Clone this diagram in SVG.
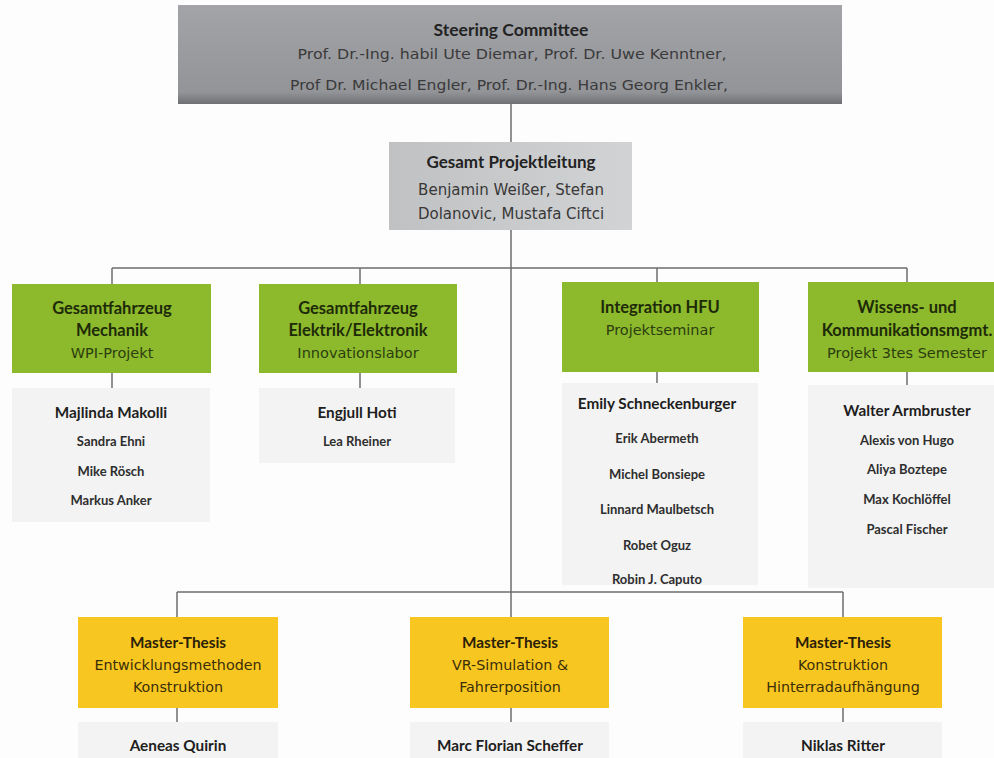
<svg xmlns="http://www.w3.org/2000/svg" width="994" height="758" viewBox="0 0 994 758">
<defs>
<linearGradient id="gTop" x1="0" y1="0" x2="0" y2="1">
<stop offset="0" stop-color="#a3a4a8"/><stop offset="0.88" stop-color="#939498"/><stop offset="1" stop-color="#6f7074"/>
</linearGradient>
<linearGradient id="gSec" x1="0" y1="0" x2="1" y2="0">
<stop offset="0" stop-color="#c0c1c3"/><stop offset="1" stop-color="#d2d3d5"/>
</linearGradient>
<style>
.ln{stroke:#6e6e6e;stroke-width:1.5;fill:none}
.green{fill:#8cba2c}
.yellow{fill:#f8c621}
.mem{fill:#f3f3f3}
text{text-anchor:middle;font-family:Lato,"Liberation Sans",sans-serif}
.r{font-family:"DejaVu Sans","Liberation Sans",sans-serif}
.t{font-weight:bold;font-size:17.5px;fill:#232323}
.s{font-size:13.5px;fill:#3a3a3a}
.gray{font-size:15px;fill:#383838}
.gt{font-weight:bold;font-size:16.5px;fill:#1e2a08}
.gs{font-size:14.5px;fill:#2d3d10}
.yt{font-weight:bold;font-size:15.3px;fill:#2a2008}
.ys{font-size:14.3px;fill:#3a2e08}
.n1{font-weight:bold;font-size:15.3px;fill:#1e1e1e}
.n{font-weight:bold;font-size:13px;fill:#2e2e2e}
</style>
</defs>
<rect width="994" height="758" fill="#fdfdfd"/>
<g id="connectors">
<path class="ln" d="M511 104V142M511 230V617"/>
<path class="ln" d="M112 268H907M112 268V284M360 268V284M657 268V282M907 268V282"/>
<path class="ln" d="M112 373V388M360 373V388M657 372V383M907 372V385"/>
<path class="ln" d="M177 592H843M177 592V617M843 592V617"/>
<path class="ln" d="M177 708V722M511 708V722M843 708V722"/>
</g>
<g id="steering">
<rect x="178" y="5" width="664" height="99" fill="url(#gTop)"/>
<text class="t" x="511" y="36">Steering Committee</text>
<text class="r s" x="512" y="59" textLength="429" lengthAdjust="spacingAndGlyphs">Prof. Dr.-Ing. habil Ute Diemar, Prof. Dr. Uwe Kenntner,</text>
<text class="r s" x="509" y="90" textLength="438" lengthAdjust="spacingAndGlyphs">Prof Dr. Michael Engler, Prof. Dr.-Ing. Hans Georg Enkler,</text>
</g>
<g id="projektleitung">
<rect x="389" y="142" width="243" height="88" fill="url(#gSec)"/>
<text class="t" x="511" y="168" style="font-size:17px">Gesamt Projektleitung</text>
<text class="r gray" x="511" y="195">Benjamin Weißer, Stefan</text>
<text class="r gray" x="511" y="219">Dolanovic, Mustafa Ciftci</text>
</g>
<g id="mechanik">
<rect class="green" x="12" y="284" width="199" height="89"/>
<text class="gt" x="112" y="314">Gesamtfahrzeug</text>
<text class="gt" x="112" y="336">Mechanik</text>
<text class="r gs" x="112" y="358">WPI-Projekt</text>
</g>
<g id="elektrik">
<rect class="green" x="259" y="284" width="198" height="89"/>
<text class="gt" x="358" y="314">Gesamtfahrzeug</text>
<text class="gt" x="358" y="336">Elektrik/Elektronik</text>
<text class="r gs" x="358" y="358">Innovationslabor</text>
</g>
<g id="integration">
<rect class="green" x="562" y="282" width="197" height="90"/>
<text class="gt" x="660" y="313">Integration HFU</text>
<text class="r gs" x="660" y="335">Projektseminar</text>
</g>
<g id="wissens">
<rect class="green" x="808" y="282" width="190" height="90"/>
<text class="gt" x="907" y="313">Wissens- und</text>
<text class="gt" x="907" y="336">Kommunikationsmgmt.</text>
<text class="r gs" x="907" y="358">Projekt 3tes Semester</text>
</g>
<g id="team-mechanik">
<rect class="mem" x="12" y="388" width="198" height="134"/>
<text class="n1" x="111" y="418">Majlinda Makolli</text>
<text class="n" x="111" y="446">Sandra Ehni</text>
<text class="n" x="111" y="476">Mike Rösch</text>
<text class="n" x="111" y="505">Markus Anker</text>
</g>
<g id="team-elektrik">
<rect class="mem" x="259" y="388" width="196" height="75"/>
<text class="n1" x="357" y="418">Engjull Hoti</text>
<text class="n" x="357" y="446">Lea Rheiner</text>
</g>
<g id="team-integration">
<rect class="mem" x="562" y="383" width="196" height="202"/>
<text class="n1" x="657" y="409">Emily Schneckenburger</text>
<text class="n" x="657" y="443">Erik Abermeth</text>
<text class="n" x="657" y="479">Michel Bonsiepe</text>
<text class="n" x="657" y="514">Linnard Maulbetsch</text>
<text class="n" x="657" y="550">Robet Oguz</text>
<text class="n" x="657" y="584">Robin J. Caputo</text>
</g>
<g id="team-wissens">
<rect class="mem" x="808" y="385" width="190" height="203"/>
<text class="n1" x="907" y="416">Walter Armbruster</text>
<text class="n" x="907" y="445">Alexis von Hugo</text>
<text class="n" x="907" y="474">Aliya Boztepe</text>
<text class="n" x="907" y="504">Max Kochlöffel</text>
<text class="n" x="907" y="534">Pascal Fischer</text>
</g>
<g id="thesis-entwicklung">
<rect class="yellow" x="78" y="617" width="200" height="91"/>
<text class="yt" x="178" y="648">Master-Thesis</text>
<text class="r ys" x="178" y="670">Entwicklungsmethoden</text>
<text class="r ys" x="178" y="692">Konstruktion</text>
</g>
<g id="thesis-vr">
<rect class="yellow" x="410" y="617" width="199" height="91"/>
<text class="yt" x="510" y="648">Master-Thesis</text>
<text class="r ys" x="510" y="670">VR-Simulation &amp;</text>
<text class="r ys" x="510" y="692">Fahrerposition</text>
</g>
<g id="thesis-konstruktion">
<rect class="yellow" x="743" y="617" width="199" height="91"/>
<text class="yt" x="843" y="648">Master-Thesis</text>
<text class="r ys" x="843" y="670">Konstruktion</text>
<text class="r ys" x="843" y="692">Hinterradaufhängung</text>
</g>
<g id="name-quirin">
<rect class="mem" x="78" y="722" width="200" height="40"/>
<text class="n1" x="178" y="751">Aeneas Quirin</text>
</g>
<g id="name-scheffer">
<rect class="mem" x="410" y="722" width="199" height="40"/>
<text class="n1" x="510" y="751">Marc Florian Scheffer</text>
</g>
<g id="name-ritter">
<rect class="mem" x="743" y="722" width="199" height="40"/>
<text class="n1" x="843" y="751">Niklas Ritter</text>
</g>
</svg>
